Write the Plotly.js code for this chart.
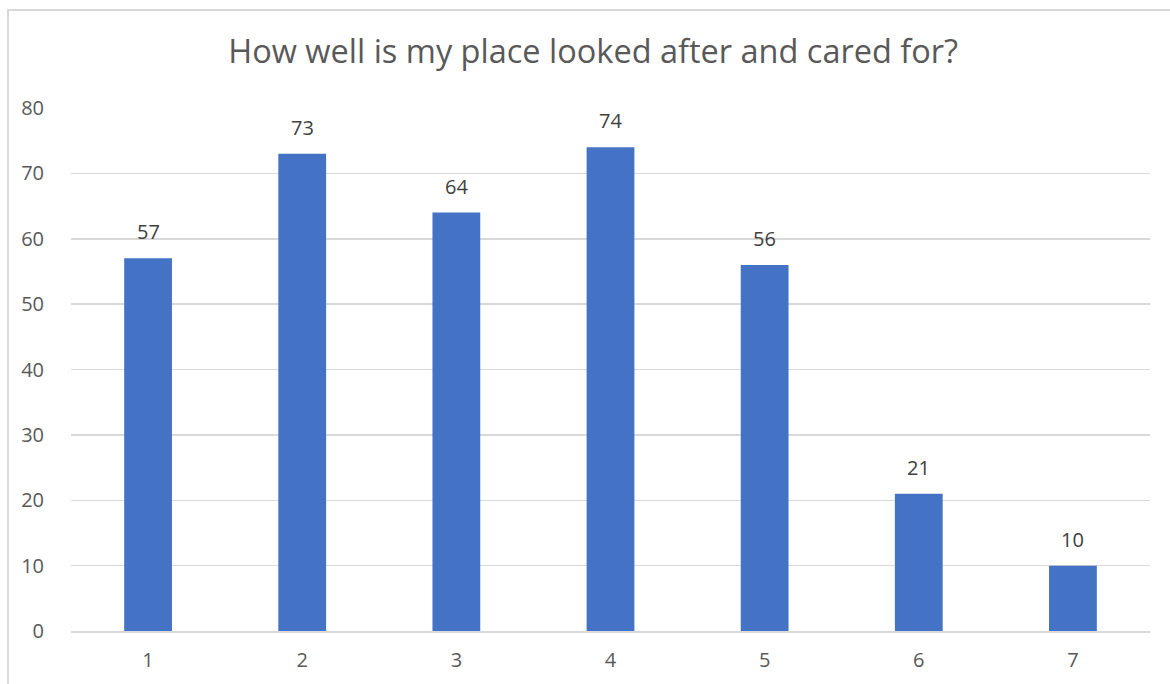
<!DOCTYPE html>
<html>
<head>
<meta charset="utf-8">
<script src="https://cdn.plot.ly/plotly-3.0.1.min.js"></script>
<style>
html,body{margin:0;padding:0;background:#fff;}
#frame{position:absolute;left:7px;top:9px;width:1170px;height:700px;border:2px solid #d9d9d9;box-sizing:border-box;}
#chart{position:absolute;left:0;top:0;width:1170px;height:684px;}
</style>
</head>
<body>
<div id="frame"></div>
<div id="chart"></div>
<script>
const categories = ["1", "2", "3", "4", "5", "6", "7"];
const values = [57, 73, 64, 74, 56, 21, 10];
const yTicks = [0, 10, 20, 30, 40, 50, 60, 70, 80];
const chartTitle = "How well is my place looked after and cared for?";

const FONT = "'Open Sans', Lato, sans-serif";

const trace = {
  type: "bar",
  x: categories,
  y: values,
  marker: {color: "#4472c4"},
  width: 0.31,
  hoverinfo: "none"
};

const labels = categories.map((c, i) => ({
  x: i,
  y: values[i],
  xref: "x",
  yref: "y",
  text: String(values[i]),
  showarrow: false,
  yanchor: "bottom",
  yshift: 11,
  font: {family: FONT, size: 20, color: "#404040"}
}));

const layout = {
  width: 1170,
  height: 684,
  paper_bgcolor: "rgba(0,0,0,0)",
  plot_bgcolor: "rgba(0,0,0,0)",
  margin: {l: 71, r: 20, t: 108, b: 53},
  title: {
    text: chartTitle,
    font: {family: FONT, size: 32.5, color: "#595959"},
    x: 0.507, xanchor: "center", y: 0.924, yanchor: "middle"
  },
  xaxis: {
    type: "category",
    range: [-0.5, categories.length - 0.5],
    tickfont: {family: FONT, size: 20, color: "#595959"},
    showgrid: false,
    showline: true,
    linecolor: "#d9d9d9",
    linewidth: 1.5,
    ticks: "outside",
    ticklen: 10,
    tickcolor: "rgba(0,0,0,0)",
    zeroline: false
  },
  yaxis: {
    range: [0, 80],
    tickvals: yTicks,
    ticktext: yTicks.map(String),
    tickfont: {family: FONT, size: 20, color: "#595959"},
    showgrid: true,
    gridcolor: "#d9d9d9",
    gridwidth: 1.5,
    zeroline: false,
    showline: false,
    ticks: "outside",
    ticklen: 22,
    tickcolor: "rgba(0,0,0,0)"
  },
  annotations: labels,
  showlegend: false
};

Plotly.newPlot("chart", [trace], layout, {staticPlot: true, displayModeBar: false});
</script>
</body>
</html>
